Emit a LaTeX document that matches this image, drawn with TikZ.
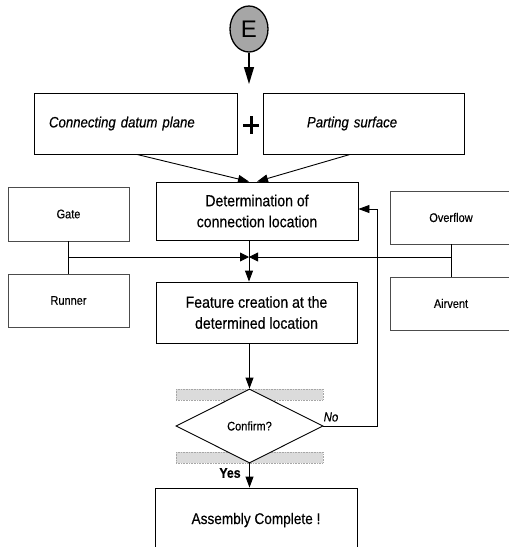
\documentclass[tikz,border=0pt]{standalone}
\usepackage{fontspec}
\setmainfont{Liberation Sans}
\newfontfamily\condsans[FakeStretch=0.88,FakeBold=0.35]{Liberation Sans}
\usetikzlibrary{shapes.geometric,arrows.meta}

\begin{document}
\begin{tikzpicture}[x=1pt,y=-1pt,
  box/.style={draw, line width=0.9pt, rectangle, inner sep=0pt, align=center},
  sidebox/.style={box, draw=black!70, font=\condsans\fontsize{12.5}{14}\selectfont},
  mainbox/.style={box, font=\condsans\fontsize{16}{21}\selectfont},
  topbox/.style={box, align=left, font=\condsans\fontsize{15}{16}\itshape},
  arr/.style={-{Triangle[length=11pt,width=8pt]}, line width=0.9pt},
  meet/.style={-{Triangle[length=9pt,width=9pt]}, line width=0.9pt},
  ln/.style={line width=0.9pt},
  band/.style={fill=black!14, draw=black!35, densely dotted, line width=0.6pt},
  lbl/.style={inner sep=0pt}
]
\useasboundingbox (0,0) rectangle (509,547);

% start connector
\node[ellipse, draw, line width=1.3pt, fill=black!35, minimum width=38pt,
      minimum height=46pt, inner sep=0pt,
      font=\fontsize{24}{24}\selectfont] (E) at (249,29) {E};
\coordinate (Ein) at (249,84);
\draw[-{Triangle[length=17pt,width=10pt]}, line width=1.2pt] (E.south) -- (Ein);

% inputs
\node[topbox, minimum width=203pt, minimum height=61pt, text width=173pt,
      inner xsep=15pt] (cdp) at (135.5,123.5) {Connecting datum plane};
\node[topbox, minimum width=201pt, minimum height=61pt, text width=113pt,
      inner xsep=44pt] (ps) at (363.5,123.5) {Parting surface};
\draw[line width=3pt] (243,125) -- (259,125) (251,116) -- (251,134);

% main steps
\node[mainbox, minimum width=202pt, minimum height=58pt] (det) at (257,211)
  {Determination of\\connection location};
\node[mainbox, minimum width=201pt, minimum height=61pt] (feat) at (256.5,312.5)
  {Feature creation at the\\determined location};

\draw[arr] ([xshift=1.5pt]cdp.south) -- ([xshift=-8pt]det.north);
\draw[arr] ([xshift=-13.5pt]ps.south) -- ([xshift=0pt]det.north);

% side features
\node[sidebox, minimum width=121pt, minimum height=54pt] (gate) at (68.5,214) {Gate};
\node[sidebox, minimum width=121pt, minimum height=53pt] (runner) at (68.5,300.5) {Runner};
\node[sidebox, minimum width=122pt, minimum height=53pt] (over) at (451,217.5) {Overflow};
\node[sidebox, minimum width=122pt, minimum height=53pt] (air) at (451,303.5) {Airvent};

\coordinate (J) at (249,257);
\coordinate (JL) at (68.5,257);
\coordinate (JR) at (451,257);
\draw[ln] (gate.south) -- (runner.north);
\draw[ln] (over.south) -- (air.north);
\draw[meet] (JL) -- (J);
\draw[meet] (JR) -- (J);
\draw[ln] (J |- det.south) -- (J);
\draw[arr] (J) -- (J |- feat.north);

% decision
\fill[band] (176,389) rectangle (323,400);
\fill[band] (176,452) rectangle (323,463);
\draw[band, fill=none] (176,389) rectangle (323,400);
\draw[band, fill=none] (176,452) rectangle (323,463);
\node[diamond, draw, fill=white, line width=0.9pt, minimum width=147pt,
      minimum height=74pt, inner sep=0pt,
      font=\condsans\fontsize{12.5}{14}\selectfont] (dia) at (249.5,426) {Confirm?};
\draw[arr] (dia.north |- feat.south) -- (dia.north);

\coordinate (fb) at (377,426);
\draw[arr] (dia.east) -- (fb) |- ([yshift=2pt]det.east);
\node[lbl, font=\condsans\fontsize{13}{14}\itshape] (no) at (331,417) {No};

% finish
\node[mainbox, minimum width=202pt, minimum height=64pt,
      font=\condsans\fontsize{15.5}{18}\selectfont] (asm) at (256,520) {Assembly Complete !};
\draw[arr] (dia.south) -- (dia.south |- asm.north);
\node[lbl, font=\condsans\fontsize{14}{15}\bfseries] (yes) at (230,473) {Yes};
\end{tikzpicture}
\end{document}
